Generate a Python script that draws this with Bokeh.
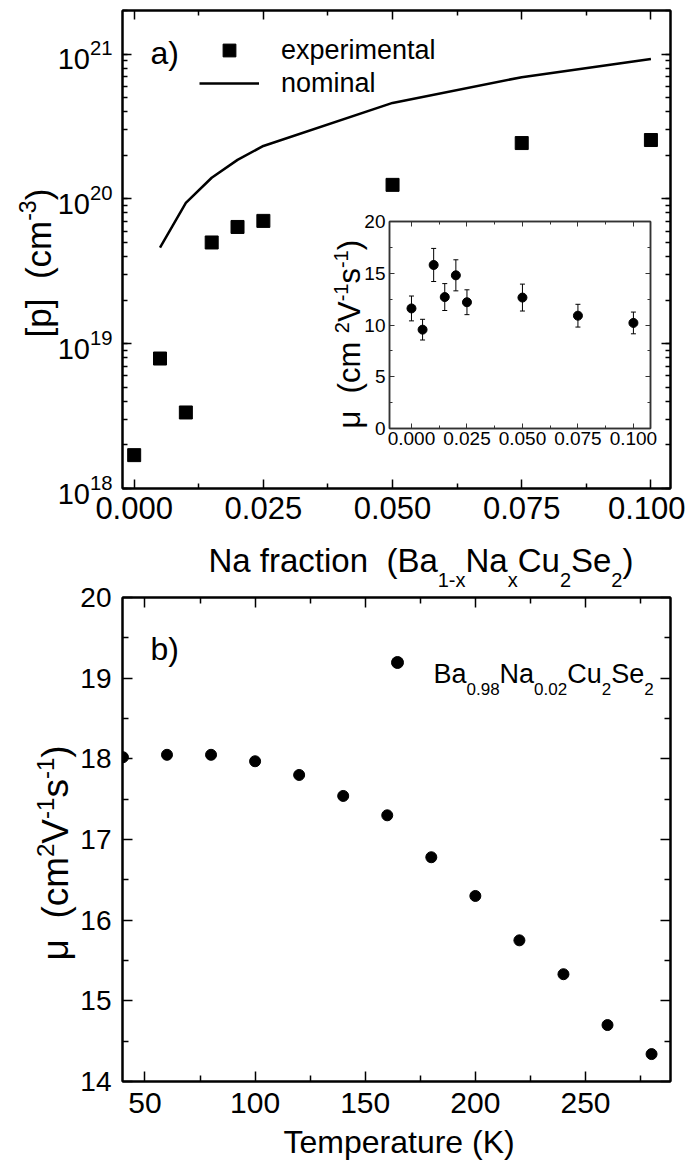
from bokeh.plotting import figure
from bokeh.models import (Range1d, LinearAxis, LogTicker, FixedTicker,
                          PrintfTickFormatter, Label, Legend, LegendItem, Whisker,
                          TeeHead, ColumnDataSource, GridBox, CustomLabelingPolicy)
from bokeh.embed import file_html
from bokeh.resources import INLINE

# ---------------- data ----------------
na_fraction = [0.000, 0.005, 0.010, 0.015, 0.020, 0.025, 0.050, 0.075, 0.100]
p_experimental = [1.70e18, 7.9e18, 3.35e18, 5.0e19, 6.4e19, 7.05e19, 1.25e20, 2.43e20, 2.55e20]
nominal_fraction = [0.005, 0.010, 0.015, 0.020, 0.025, 0.050, 0.075, 0.100]
p_nominal = [4.6e19, 9.4e19, 1.40e20, 1.86e20, 2.32e20, 4.6e20, 6.93e20, 9.25e20]
mobility_inset = [11.6, 9.55, 15.8, 12.7, 14.8, 12.2, 12.65, 10.9, 10.2]
mobility_inset_err = [1.2, 1.0, 1.6, 1.3, 1.5, 1.2, 1.3, 1.1, 1.05]
temperature = [40, 60, 80, 100, 120, 140, 160, 180, 200, 220, 240, 260, 280]
mobility_T = [18.02, 18.05, 18.05, 17.97, 17.80, 17.54, 17.30, 16.78, 16.30, 15.75, 15.33, 14.70, 14.34]

frac_ticks = [0.0, 0.025, 0.05, 0.075, 0.1]
frac_minor = [0.0125, 0.0375, 0.0625, 0.0875]
inset_mu_ticks = [0, 5, 10, 15, 20]
inset_mu_minor = [2.5, 7.5, 12.5, 17.5]
temp_ticks = [50, 100, 150, 200, 250]
temp_minor = [75, 125, 175, 225, 275]
mu_ticks = [14, 15, 16, 17, 18, 19, 20]
mu_minor = [14.5, 15.5, 16.5, 17.5, 18.5, 19.5]

FONT = "Liberation Sans"
PAGE_W, PAGE_H = 685, 1167
BASE_FIX = 0.35  # em; Bokeh draws "alphabetic" text this much below the anchor

# Arial / Liberation Sans advance widths (1/1000 em) for text composition
W = {' ': 278, '(': 333, ')': 333, '-': 333, '.': 278, '[': 278, ']': 278,
     'A': 667, 'B': 667, 'C': 722, 'K': 722, 'N': 722, 'S': 667, 'T': 611, 'V': 667,
     'a': 556, 'c': 500, 'e': 556, 'f': 278, 'i': 222, 'l': 222, 'm': 833, 'n': 556,
     'o': 556, 'p': 556, 'r': 333, 's': 500, 't': 278, 'u': 556, 'x': 500, 'μ': 576}


def tw(s, size):
    return sum(W.get(c, 556) for c in s) / 1000.0 * size


def rich(fig, L, B, x0, y0, segs, angle=0.0):
    """segs: (text, size_px, rise_px). x0, y0: canvas coords of baseline start."""
    pos = 0.0
    for text, size, rise in segs:
        lead = len(text) - len(text.lstrip(' '))
        body = text.strip(' ')
        off = pos + tw(' ' * lead, size)
        up = rise + BASE_FIX * size
        if body:
            if angle == 0.0:
                cx, cy = x0 + off, y0 - up
            else:
                cx, cy = x0 - up, y0 - off
            fig.add_layout(Label(x=cx - L, y=B - cy, x_units="screen", y_units="screen",
                                 text=body, text_font=FONT, text_font_size=f"{size}px",
                                 text_color="black", text_baseline="alphabetic",
                                 text_align="left", angle=angle))
        pos += tw(text, size)


NO_LABELS = CustomLabelingPolicy(code="return new Set()")


def style_axis(ax, font_px, standoff, maj_in, min_in, lw=2, tick_lw=1.5,
               color="black", mirror=False):
    ax.axis_line_width = lw
    ax.axis_line_color = color
    ax.major_tick_in = maj_in
    ax.major_tick_out = 0
    ax.minor_tick_in = min_in
    ax.minor_tick_out = 0
    ax.major_tick_line_width = tick_lw
    ax.minor_tick_line_width = tick_lw
    ax.major_tick_line_color = color
    ax.minor_tick_line_color = color
    ax.major_label_text_font = FONT
    ax.major_label_text_color = "black"
    if mirror:
        ax.major_label_text_font_size = "1px"
        ax.major_label_standoff = 0
        ax.major_label_policy = NO_LABELS
    else:
        ax.major_label_text_font_size = f"{font_px}px"
        ax.major_label_standoff = standoff


# page layout (pixels)
TOP_H = 575
INS_Y0, INS_H = 209, 251
BOT_Y0 = TOP_H
BOT_H = PAGE_H - TOP_H

# ---------------- top panel (a) ----------------
TL, TB = 122, 488
top = figure(width=685, height=TOP_H, x_range=Range1d(-0.00226, 0.10379),
             y_range=Range1d(1e18, 2.0e21), y_axis_type="log",
             output_backend="svg", toolbar_location=None,
             min_border_left=TL, min_border_right=15, min_border_top=10,
             min_border_bottom=TOP_H - TB)
top.xgrid.visible = False
top.ygrid.visible = False
top.outline_line_color = "black"
top.outline_line_width = 2
top.xaxis.ticker = FixedTicker(ticks=frac_ticks, minor_ticks=frac_minor)
top.xaxis.formatter = PrintfTickFormatter(format="%.3f")
style_axis(top.xaxis[0], 31, 8, 9, 5)
top.yaxis.ticker = LogTicker(num_minor_ticks=10)
style_axis(top.yaxis[0], 29, 10, 9, 5)
t_above = LinearAxis(ticker=FixedTicker(ticks=frac_ticks, minor_ticks=frac_minor))
style_axis(t_above, 0, 0, 9, 5, mirror=True)
top.add_layout(t_above, "above")
t_right = LinearAxis(ticker=LogTicker(num_minor_ticks=10))
style_axis(t_right, 0, 0, 9, 5, mirror=True)
top.add_layout(t_right, "right")

r_exp = top.scatter(x=na_fraction, y=p_experimental, marker="square", size=13,
                    color="black")
r_nom = top.line(x=nominal_fraction, y=p_nominal, line_width=2.5, color="black")

leg_a = Legend(items=[LegendItem(label="experimental", renderers=[r_exp]),
                      LegendItem(label="nominal", renderers=[r_nom])],
               location=(199 - TL, TB - 99), glyph_width=60, glyph_height=32,
               spacing=1, label_standoff=22, padding=0, margin=0,
               border_line_color=None, background_fill_alpha=0,
               label_text_font=FONT, label_text_font_size="27px",
               label_text_color="black")
top.add_layout(leg_a)
rich(top, TL, TB, 150, 64, [("a)", 32, 0)])

# ---------------- inset ----------------
IL = 64
ins = figure(width=335, height=INS_H, x_range=Range1d(-0.0099, 0.1077),
             y_range=Range1d(0, 20), output_backend="svg", toolbar_location=None,
             min_border_left=IL, min_border_right=10, min_border_top=221 - INS_Y0,
             min_border_bottom=INS_Y0 + INS_H - 428, border_fill_color=None)
ins.xgrid.visible = False
ins.ygrid.visible = False
ins.outline_line_color = "#333333"
ins.outline_line_width = 1.5
ins.xaxis.ticker = FixedTicker(ticks=frac_ticks, minor_ticks=frac_minor)
ins.xaxis.formatter = PrintfTickFormatter(format="%.3f")
style_axis(ins.xaxis[0], 19, 3, 5, 3, lw=1.5, tick_lw=1, color="#333333")
ins.yaxis.ticker = FixedTicker(ticks=inset_mu_ticks, minor_ticks=inset_mu_minor)
style_axis(ins.yaxis[0], 19, 4, 5, 3, lw=1.5, tick_lw=1, color="#333333")
i_above = LinearAxis(ticker=FixedTicker(ticks=frac_ticks, minor_ticks=frac_minor))
style_axis(i_above, 0, 0, 5, 3, lw=1.5, tick_lw=1, color="#333333", mirror=True)
ins.add_layout(i_above, "above")
i_right = LinearAxis(ticker=FixedTicker(ticks=inset_mu_ticks, minor_ticks=inset_mu_minor))
style_axis(i_right, 0, 0, 5, 3, lw=1.5, tick_lw=1, color="#333333", mirror=True)
ins.add_layout(i_right, "right")

src = ColumnDataSource(dict(x=na_fraction, y=mobility_inset,
                            upper=[m + e for m, e in zip(mobility_inset, mobility_inset_err)],
                            lower=[m - e for m, e in zip(mobility_inset, mobility_inset_err)]))
ins.add_layout(Whisker(source=src, base="x", upper="upper", lower="lower",
                       dimension="height", line_width=1, line_color="black",
                       upper_head=TeeHead(size=5, line_width=1, line_color="black"),
                       lower_head=TeeHead(size=5, line_width=1, line_color="black")))
ins.scatter(x="x", y="y", source=src, size=9, color="black")

# ---------------- bottom panel (b) ----------------
BL = 122
BB = 1081 - BOT_Y0
bot = figure(width=685, height=BOT_H, x_range=Range1d(39.8, 288.6),
             y_range=Range1d(14, 20), output_backend="svg", toolbar_location=None,
             min_border_left=BL, min_border_right=2, min_border_top=597 - BOT_Y0,
             min_border_bottom=BOT_H - BB)
bot.xgrid.visible = False
bot.ygrid.visible = False
bot.outline_line_color = "black"
bot.outline_line_width = 2
bot.xaxis.ticker = FixedTicker(ticks=temp_ticks, minor_ticks=temp_minor)
style_axis(bot.xaxis[0], 30, 11, 10, 6)
bot.yaxis.ticker = FixedTicker(ticks=mu_ticks, minor_ticks=mu_minor)
style_axis(bot.yaxis[0], 28, 11, 10, 6)
b_above = LinearAxis(ticker=FixedTicker(ticks=temp_ticks, minor_ticks=temp_minor))
style_axis(b_above, 0, 0, 10, 6, mirror=True)
bot.add_layout(b_above, "above")
b_right = LinearAxis(ticker=FixedTicker(ticks=mu_ticks, minor_ticks=mu_minor))
style_axis(b_right, 0, 0, 10, 6, mirror=True)
bot.add_layout(b_right, "right")

r_T = bot.scatter(x=temperature, y=mobility_T, size=11, color="black")
leg_b = Legend(items=[LegendItem(label=" ", renderers=[r_T])],
               location=(382 - BL, BB - (677 - BOT_Y0)), glyph_width=30, glyph_height=30,
               spacing=0, label_standoff=0, padding=0, margin=0,
               border_line_color=None, background_fill_alpha=0,
               label_text_font=FONT, label_text_font_size="10px")
bot.add_layout(leg_b)

rich(bot, BL, BB, 150, 660 - BOT_Y0, [("b)", 32, 0)])
rich(bot, BL, BB, 433, 683 - BOT_Y0,
     [("Ba", 27, 0), ("0.98", 17, -11), ("Na", 27, 0), ("0.02", 17, -11),
      ("Cu", 27, 0), ("2", 17, -11), ("Se", 27, 0), ("2", 17, -11)])

# ---------------- transparent overlay for axis titles (page coordinates) ----------------
ov = figure(width=PAGE_W, height=PAGE_H, x_range=Range1d(0, 1), y_range=Range1d(0, 1),
            output_backend="svg", toolbar_location=None,
            x_axis_location=None, y_axis_location=None,
            min_border_left=0, min_border_right=0, min_border_top=0, min_border_bottom=0,
            background_fill_color=None, border_fill_color=None, outline_line_color=None)
ov.xgrid.visible = False
ov.ygrid.visible = False

rich(ov, 0, PAGE_H, 50, 337,
     [("[p]  ", 35, 0), ("(cm", 35, 0), ("-3", 23, 15), (")", 35, 0)], angle=1.5708)
rich(ov, 0, PAGE_H, 208, 572,
     [("Na fraction  ", 33, 0), ("(Ba", 33, 0), ("1-x", 20, -14), ("Na", 33, 0),
      ("x", 20, -14), ("Cu", 33, 0), ("2", 20, -14), ("Se", 33, 0), ("2", 20, -14),
      (")", 33, 0)])
rich(ov, 0, PAGE_H, 360, 428,
     [("μ  ", 31, 0), ("(cm ", 31, 0), ("2", 20, 12), ("V", 31, 0), ("-1", 20, 12),
      ("s", 31, 0), ("-1", 20, 12), (")", 31, 0)], angle=1.5708)
rich(ov, 0, PAGE_H, 283, 1153, [("Temperature (K)", 32, 0)])
rich(ov, 0, PAGE_H, 68, 960,
     [("μ  ", 37, 0), ("(cm", 37, 0), ("2", 24, 15), ("V", 37, 0), ("-1", 24, 15),
      ("s", 37, 0), ("-1", 24, 15), (")", 37, 0)], angle=1.5708)

# zero-size outer tracks keep the overlay from being frame-aligned with the panels
layout = GridBox(children=[(top, 1, 1, 3, 3), (ins, 2, 2, 1, 1), (bot, 4, 1, 1, 3),
                           (ov, 0, 0, 6, 5)],
                 rows=["0px", f"{INS_Y0}px", f"{INS_H}px",
                       f"{TOP_H - INS_Y0 - INS_H}px", f"{BOT_H}px", "0px"],
                 cols=["0px", "325px", "335px", "25px", "0px"])

open("out.html", "w").write(file_html(layout, INLINE))
